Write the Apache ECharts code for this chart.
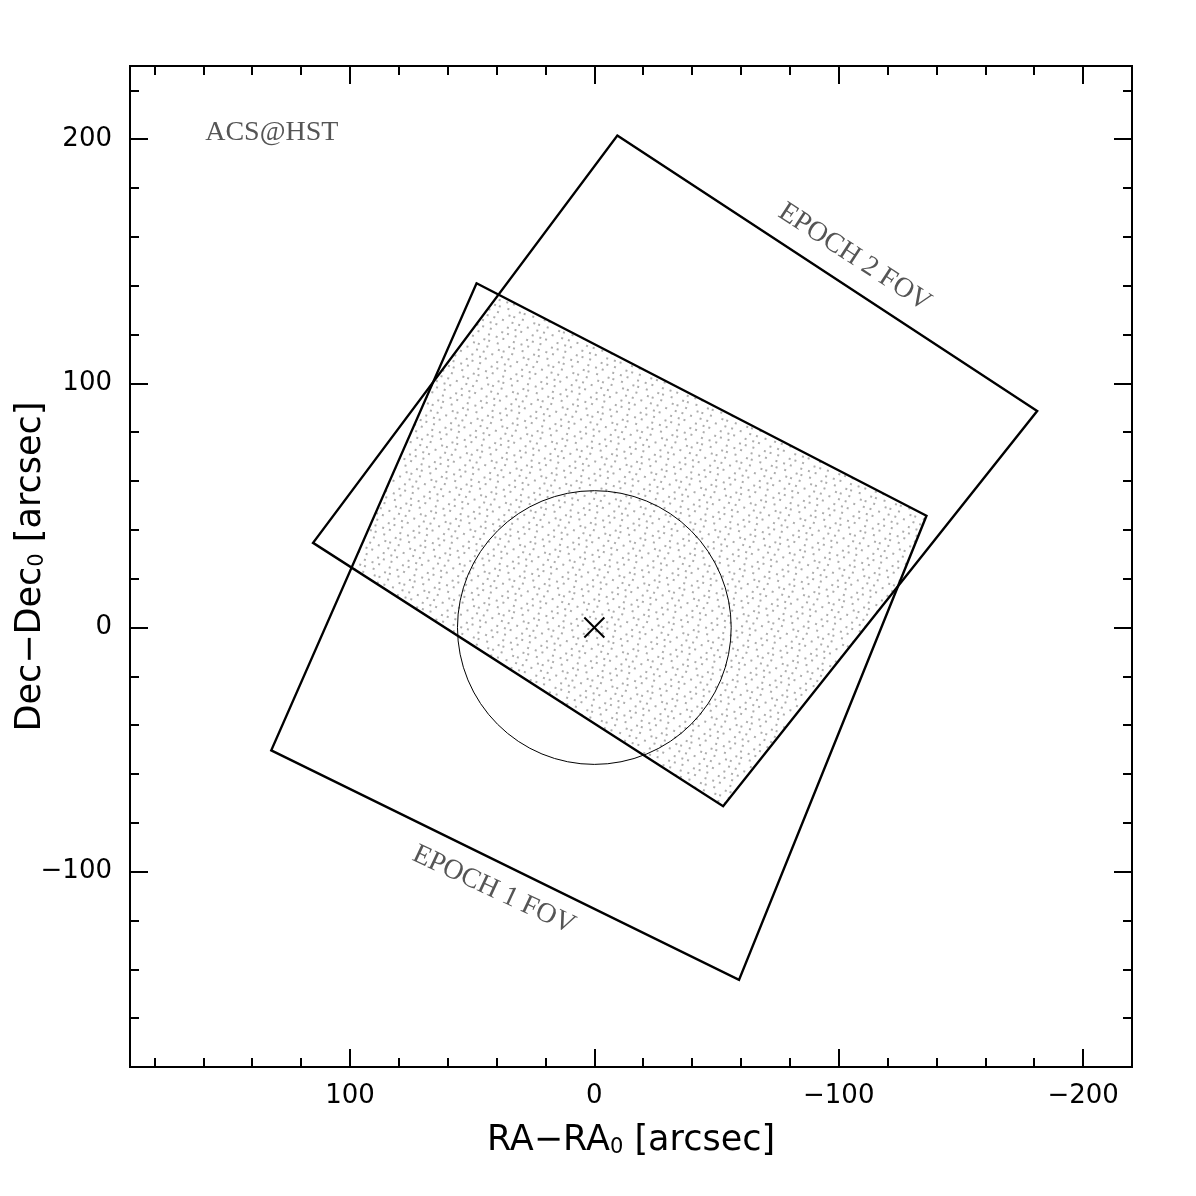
<!DOCTYPE html>
<html><head><meta charset="utf-8">
<script src="https://cdn.jsdelivr.net/npm/echarts@6/dist/echarts.min.js"></script>
<style>html,body{margin:0;padding:0;background:#fff}#c{width:1196px;height:1196px}</style>
</head><body><div id="c"></div>
<script>
// ---- axis ranges & ticks ----
const xRange = [-220, 190];
const yRange = [-180, 230];
const xMajorTicks = [100, 0, -100, -200];
const xMinorTicks = [180, 160, 140, 120, 100, 80, 60, 40, 20, 0, -20, -40, -60, -80, -100, -120, -140, -160, -180, -200];
const yMajorTicks = [200, 100, 0, -100];
const yMinorTicks = [220, 200, 180, 160, 140, 120, 100, 80, 60, 40, 20, 0, -20, -40, -60, -80, -100, -120, -140, -160];

// ---- field-of-view corners (arcsec) ----
const epoch1X = [48.2, -135.9, -59.2, 132.2];
const epoch1Y = [141.0, 45.8, -144.3, -50.3];
const epoch2X = [-9.4, -181.2, -52.7, 115.1];
const epoch2Y = [201.5, 88.7, -73.2, 34.7];

// ---- circle and centre marker ----
const circleCenter = [0, 0];
const circleRadius = 56;
const markerPos = [0, 0];

// ---- text annotations ----
const labelTexts = ['ACS@HST', 'EPOCH 2 FOV', 'EPOCH 1 FOV'];
const labelX = [132, -106.5, 41.2];
const labelY = [202.7, 151.6, -107.5];

const epoch1 = epoch1X.map((x, i) => [x, epoch1Y[i]]);
const epoch2 = epoch2X.map((x, i) => [x, epoch2Y[i]]);

function clipPoly(subject, clip) {
  const n = clip.length;
  let area = 0;
  for (let i = 0; i < n; i++) {
    const p = clip[i], q = clip[(i + 1) % n];
    area += p[0] * q[1] - q[0] * p[1];
  }
  const sgn = area >= 0 ? 1 : -1;
  let output = subject.slice();
  for (let i = 0; i < n; i++) {
    const a = clip[i], b = clip[(i + 1) % n];
    const cr = p => sgn * ((b[0] - a[0]) * (p[1] - a[1]) - (b[1] - a[1]) * (p[0] - a[0]));
    const input = output; output = [];
    for (let j = 0; j < input.length; j++) {
      const cur = input[j], prev = input[(j + input.length - 1) % input.length];
      const dc = cr(cur), dp = cr(prev);
      const inter = () => { const t = dp / (dp - dc); return [prev[0] + t * (cur[0] - prev[0]), prev[1] + t * (cur[1] - prev[1])]; };
      if (dc >= 0) { if (dp < 0) output.push(inter()); output.push(cur); }
      else if (dp >= 0) output.push(inter());
    }
  }
  return output;
}
const overlap = clipPoly(epoch1, epoch2);

const fmt = v => (v < 0 ? '\u2212' + Math.abs(v) : String(v));
const FONT = 'DejaVu Sans';

function mkX(position, ticks, len, labels, extra) {
  return Object.assign({
    type: 'value', min: xRange[0], max: xRange[1], inverse: true, position: position,
    axisLine: { show: true, onZero: false, lineStyle: { color: '#000', width: 2 } },
    axisTick: { show: true, inside: true, length: len, customValues: ticks, lineStyle: { color: '#000', width: 2 } },
    axisLabel: labels ? { show: true, customValues: xMajorTicks, formatter: fmt, margin: 16, color: '#000', fontFamily: FONT, fontSize: 26 } : { show: false },
    splitLine: { show: false }, minorTick: { show: false }
  }, extra || {});
}
function mkY(position, ticks, len, labels, extra) {
  return Object.assign({
    type: 'value', min: yRange[0], max: yRange[1], position: position,
    axisLine: { show: true, onZero: false, lineStyle: { color: '#000', width: 2 } },
    axisTick: { show: true, inside: true, length: len, customValues: ticks, lineStyle: { color: '#000', width: 2 } },
    axisLabel: labels ? { show: true, customValues: yMajorTicks, formatter: fmt, margin: 18, color: '#000', fontFamily: FONT, fontSize: 26 } : { show: false },
    splitLine: { show: false }, minorTick: { show: false }
  }, extra || {});
}

const chart = echarts.init(document.getElementById('c'), null, { renderer: 'canvas' });
const option = {
  animation: false,
  backgroundColor: '#fff',
  grid: { left: 130, top: 66, right: 64, bottom: 129, containLabel: false, outerBoundsMode: 'none' },
  xAxis: [
    mkX('bottom', xMajorTicks, 18, true, {
      name: 'RA\u2212RA{s|0} [arcsec]', nameLocation: 'middle', nameGap: 56, nameMoveOverlap: false,
      nameTextStyle: { color: '#000', fontFamily: FONT, fontSize: 35,
        rich: { s: { fontFamily: FONT, fontSize: 21, lineHeight: 12, verticalAlign: 'bottom', color: '#000' } } }
    }),
    mkX('bottom', xMinorTicks, 9, false),
    mkX('top', xMajorTicks, 18, false),
    mkX('top', xMinorTicks, 9, false)
  ],
  yAxis: [
    mkY('left', yMajorTicks, 18, true, {
      name: 'Dec\u2212Dec{s|0} [arcsec]', nameLocation: 'middle', nameGap: 82, nameMoveOverlap: false,
      nameTextStyle: { color: '#000', fontFamily: FONT, fontSize: 35,
        rich: { s: { fontFamily: FONT, fontSize: 21, lineHeight: 12, verticalAlign: 'bottom', color: '#000' } } }
    }),
    mkY('left', yMinorTicks, 9, false),
    mkY('right', yMajorTicks, 18, false),
    mkY('right', yMinorTicks, 9, false)
  ],
  series: [
    {
      type: 'custom', xAxisIndex: 0, yAxisIndex: 0, silent: true, z: 1,
      data: [[0, 0]],
      renderItem: function (params, api) {
        return {
          type: 'polygon',
          shape: { points: overlap.map(p => api.coord(p)) },
          style: {
            fill: '#ffffff', stroke: null,
            decal: {
              symbol: 'rect', symbolSize: 1, color: '#adadad', backgroundColor: '#ffffff', rotation: 0.3,
              dashArrayX: [[0, 1, 2, 5, 2, 9, 2, 5], [0, 4, 2, 10, 2, 3, 2, 3], [0, 7, 2, 3, 2, 7, 2, 3],
                           [0, 2, 2, 8, 2, 5, 2, 5], [0, 9, 2, 6, 2, 4, 2, 1], [0, 5, 2, 4, 2, 6, 2, 5]],
              dashArrayY: [2, 4]
            }
          }
        };
      }
    },
    {
      type: 'custom', xAxisIndex: 0, yAxisIndex: 0, silent: true, z: 3,
      data: [[0, 0], [1, 0]],
      renderItem: function (params, api) {
        const poly = params.dataIndex === 0 ? epoch1 : epoch2;
        return {
          type: 'polygon',
          shape: { points: poly.map(p => api.coord(p)) },
          style: { fill: null, stroke: '#000', lineWidth: 2.4, lineJoin: 'miter' }
        };
      }
    },
    {
      type: 'custom', xAxisIndex: 0, yAxisIndex: 0, silent: true, z: 3,
      data: [circleCenter],
      renderItem: function (params, api) {
        const c = api.coord(circleCenter);
        const r = Math.abs(api.coord([circleCenter[0] + circleRadius, circleCenter[1]])[0] - c[0]);
        return { type: 'circle', shape: { cx: c[0], cy: c[1], r: r }, style: { fill: null, stroke: '#000', lineWidth: 1 } };
      }
    },
    {
      type: 'custom', xAxisIndex: 0, yAxisIndex: 0, silent: true, z: 4,
      data: [markerPos],
      renderItem: function (params, api) {
        const c = api.coord(markerPos);
        const h = 10;
        return {
          type: 'group', children: [
            { type: 'line', shape: { x1: c[0] - h, y1: c[1] - h, x2: c[0] + h, y2: c[1] + h }, style: { stroke: '#000', lineWidth: 2 } },
            { type: 'line', shape: { x1: c[0] - h, y1: c[1] + h, x2: c[0] + h, y2: c[1] - h }, style: { stroke: '#000', lineWidth: 2 } }
          ]
        };
      }
    },
    {
      type: 'custom', xAxisIndex: 0, yAxisIndex: 0, silent: true, z: 5,
      data: labelTexts.map((t, i) => [labelX[i], labelY[i]]),
      renderItem: function (params, api) {
        const i = params.dataIndex;
        const c = api.coord([labelX[i], labelY[i]]);
        const rot = [0, -33 * Math.PI / 180, -25 * Math.PI / 180][i];
        return {
          type: 'text', x: c[0], y: c[1], rotation: rot,
          style: { text: labelTexts[i], fill: '#555', font: '28px "Liberation Serif"', align: 'center', verticalAlign: 'middle' }
        };
      }
    }
  ]
};
chart.setOption(option);
</script>
</body></html>
